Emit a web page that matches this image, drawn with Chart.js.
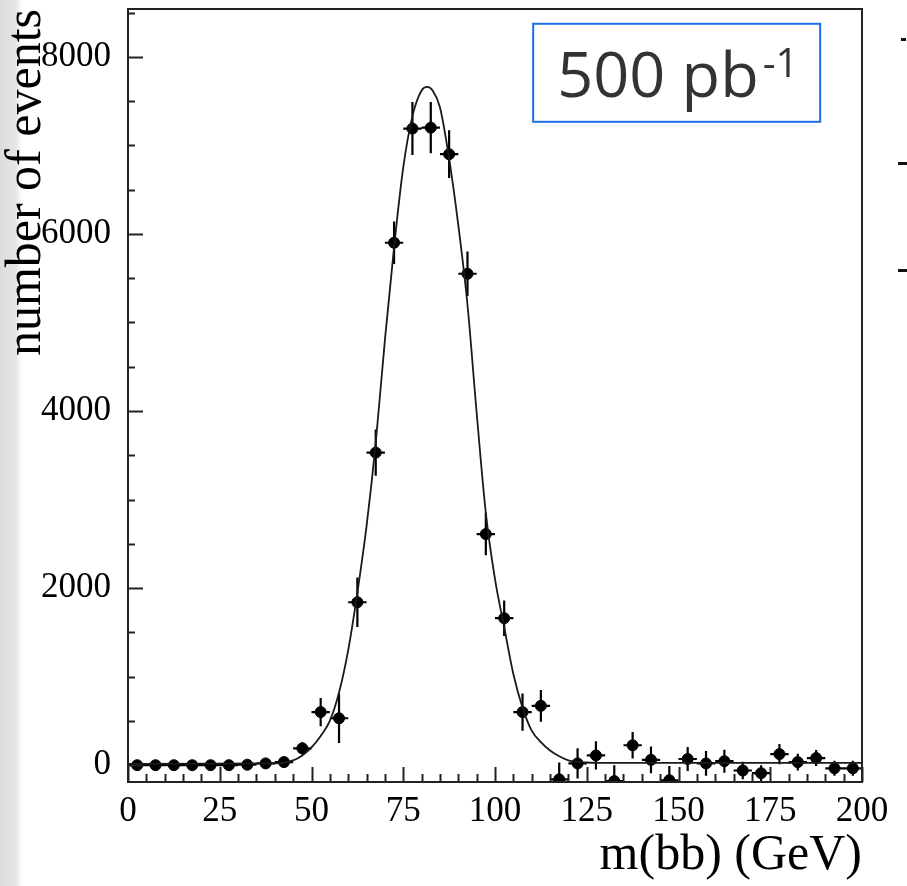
<!DOCTYPE html>
<html>
<head>
<meta charset="utf-8">
<script src="https://cdn.jsdelivr.net/npm/chart.js@4.4.1/dist/chart.umd.min.js"></script>
<style>
  html, body { margin: 0; padding: 0; }
  body { width: 907px; height: 886px; overflow: hidden;
         background: linear-gradient(to right, #dcdcdc 0px, #e6e6e6 16px, #ffffff 22px); }
  #wrap { position: relative; width: 907px; height: 886px; }
  .stub { position: absolute; left: 898px; width: 9px; height: 3px; background: #111; }
</style>
</head>
<body>
<div id="wrap"><canvas id="chart"></canvas>
  <div class="stub" style="top:38px;width:5px;left:901px"></div>
  <div class="stub" style="top:162px"></div>
  <div class="stub" style="top:269px"></div>
</div>
<script>
// histogram bins (GeV) and measured counts with errors
var binCenters = [2.5, 7.5, 12.5, 17.5, 22.5, 27.5, 32.5, 37.5, 42.5, 47.5,
                  52.5, 57.5, 62.5, 67.5, 72.5, 77.5, 82.5, 87.5, 92.5, 97.5,
                  102.5, 107.5, 112.5, 117.5, 122.5, 127.5, 132.5, 137.5, 142.5, 147.5,
                  152.5, 157.5, 162.5, 167.5, 172.5, 177.5, 182.5, 187.5, 192.5, 197.5];
var counts = [0, 0, 0, 0, 0, 0, 5, 20, 35, 190,
              600, 530, 1840, 3530, 5900, 7190, 7200, 6900, 5550, 2610,
              1660, 600, 670, -160, 20, 110, -180, 225, 60, -170,
              70, 20, 45, -60, -90, 125, 35, 80, -35, -35];
var errors = [20, 20, 20, 20, 20, 20, 25, 30, 40, 70,
              160, 280, 280, 260, 240, 300, 290, 270, 250, 240,
              200, 210, 180, 190, 170, 160, 180, 150, 150, 160,
              135, 140, 130, 100, 90, 115, 95, 90, 85, 85];
var binHalf = 2.5;

// fitted curve
var fitX = [0, 40, 45, 47.5, 50, 52.5, 55, 57.5, 60, 62.5,
            65, 67.5, 70, 72.5, 75, 77.5, 80, 81.5, 83, 85,
            87.5, 90, 92.5, 95, 97.5, 100, 102.5, 105, 107.5, 110,
            112.5, 115, 117.5, 120, 125, 130, 200];
var fitY = [15, 20, 55, 110, 200, 330, 500, 820, 1300, 1950,
            2700, 3640, 4800, 5850, 6750, 7330, 7620, 7660, 7620, 7430,
            6850, 6100, 5200, 3980, 2850, 2100, 1560, 1030, 650, 390,
            260, 165, 100, 55, 30, 25, 25];

var xTicks = [0, 25, 50, 75, 100, 125, 150, 175, 200];
var yTicks = [0, 2000, 4000, 6000, 8000];
var xTitle = 'm(bb) (GeV)';
var yTitle = 'number of events';
var lumiText = '500 pb';
var lumiSup = '-1';

var serif = '"Liberation Serif", "DejaVu Serif", serif';

var histoDecor = {
  id: 'histoDecor',
  beforeDatasetsDraw: function(chart) {
    var ctx = chart.ctx, a = chart.chartArea, x = chart.scales.x, y = chart.scales.y;
    ctx.save();
    ctx.beginPath();
    ctx.rect(a.left, a.top, a.right - a.left, a.bottom - a.top);
    ctx.clip();
    ctx.strokeStyle = '#000';
    ctx.lineWidth = 2.2;
    ctx.beginPath();
    for (var i = 0; i < binCenters.length; i++) {
      var px = x.getPixelForValue(binCenters[i]);
      var py = y.getPixelForValue(counts[i]);
      ctx.moveTo(x.getPixelForValue(binCenters[i] - binHalf), py);
      ctx.lineTo(x.getPixelForValue(binCenters[i] + binHalf), py);
      ctx.moveTo(px, y.getPixelForValue(counts[i] - errors[i]));
      ctx.lineTo(px, y.getPixelForValue(counts[i] + errors[i]));
    }
    ctx.stroke();
    ctx.restore();
  },
  afterDraw: function(chart) {
    var ctx = chart.ctx, a = chart.chartArea, x = chart.scales.x, y = chart.scales.y;
    ctx.save();
    // inward ticks
    ctx.strokeStyle = '#222';
    ctx.lineWidth = 2;
    ctx.beginPath();
    for (var v = 0; v <= y.max; v += 500) {
      var py = Math.round(y.getPixelForValue(v)) + 0.5;
      var len = (v % 2000 === 0) ? 15 : 7;
      ctx.moveTo(a.left, py);
      ctx.lineTo(a.left + len, py);
    }
    for (var u = 0; u <= x.max; u += 5) {
      var px = Math.round(x.getPixelForValue(u)) + 0.5;
      var l2 = (u % 25 === 0) ? 15 : 8;
      ctx.moveTo(px, a.bottom);
      ctx.lineTo(px, a.bottom - l2);
    }
    ctx.stroke();
    // frame
    ctx.strokeRect(a.left, a.top, a.right - a.left, a.bottom - a.top);

    // luminosity box
    var bx0 = x.getPixelForValue(110.4), bx1 = x.getPixelForValue(188.6);
    var by0 = y.getPixelForValue(8373), by1 = y.getPixelForValue(7266);
    ctx.strokeStyle = '#1a6fe8';
    ctx.lineWidth = 2;
    ctx.strokeRect(bx0, by0, bx1 - bx0, by1 - by0);
    ctx.fillStyle = '#333';
    ctx.textBaseline = 'alphabetic';
    ctx.textAlign = 'left';
    ctx.font = '63px "Open Sans", "Noto Sans", sans-serif';
    ctx.fillText(lumiText, bx0 + 24, by0 + 73);
    var w = ctx.measureText(lumiText).width;
    ctx.font = '40px "Open Sans", "Noto Sans", sans-serif';
    ctx.fillText(lumiSup, bx0 + 24 + w + 4, by0 + 53);
    ctx.restore();
  }
};

var ctx = document.getElementById('chart').getContext('2d');
var myChart = new Chart(ctx, {
  data: {
    datasets: [{
      type: 'line',
      data: fitX.map(function(v, i) { return { x: v, y: fitY[i] }; }),
      borderColor: '#1a1a1a',
      borderWidth: 1.8,
      pointRadius: 0,
      cubicInterpolationMode: 'monotone',
      fill: false,
      clip: 0
    }, {
      type: 'scatter',
      data: binCenters.map(function(v, i) { return { x: v, y: counts[i] }; }),
      backgroundColor: '#000',
      borderColor: '#000',
      pointRadius: 5.5,
      clip: 0
    }]
  },
  options: {
    responsive: true,
    maintainAspectRatio: false,
    animation: false,
    devicePixelRatio: 1,
    layout: { padding: { top: 9, right: 45, left: 0, bottom: 0 } },
    plugins: { legend: { display: false }, tooltip: { enabled: false } },
    scales: {
      x: {
        type: 'linear',
        min: 0,
        max: 200,
        afterBuildTicks: function(s) { s.ticks = xTicks.map(function(v) { return { value: v }; }); },
        afterFit: function(s) { s.height = 104; s.paddingLeft = 0; s.paddingRight = 0; },
        grid: { display: false },
        border: { display: false },
        ticks: { font: { family: serif, size: 35 }, color: '#000', padding: 1, maxRotation: 0, autoSkip: false,
                 callback: function(v) { return String(v); } },
        title: { display: true, text: xTitle, align: 'end', color: '#000',
                 font: { family: serif, size: 50 }, padding: { top: 0, bottom: 0 } }
      },
      y: {
        type: 'linear',
        min: -190,
        max: 8540,
        afterBuildTicks: function(s) { s.ticks = yTicks.map(function(v) { return { value: v }; }); },
        afterFit: function(s) { s.width = 128; s.paddingTop = 0; s.paddingBottom = 0; },
        grid: { display: false },
        border: { display: false },
        ticks: { font: { family: serif, size: 35 }, color: '#000', padding: 9,
                 callback: function(v) { return String(v); } },
        title: { display: true, text: yTitle, align: 'end', color: '#000',
                 font: { family: serif, size: 50 }, padding: { top: -3, bottom: 0 } }
      }
    }
  },
  plugins: [histoDecor]
});
</script>
</body>
</html>
